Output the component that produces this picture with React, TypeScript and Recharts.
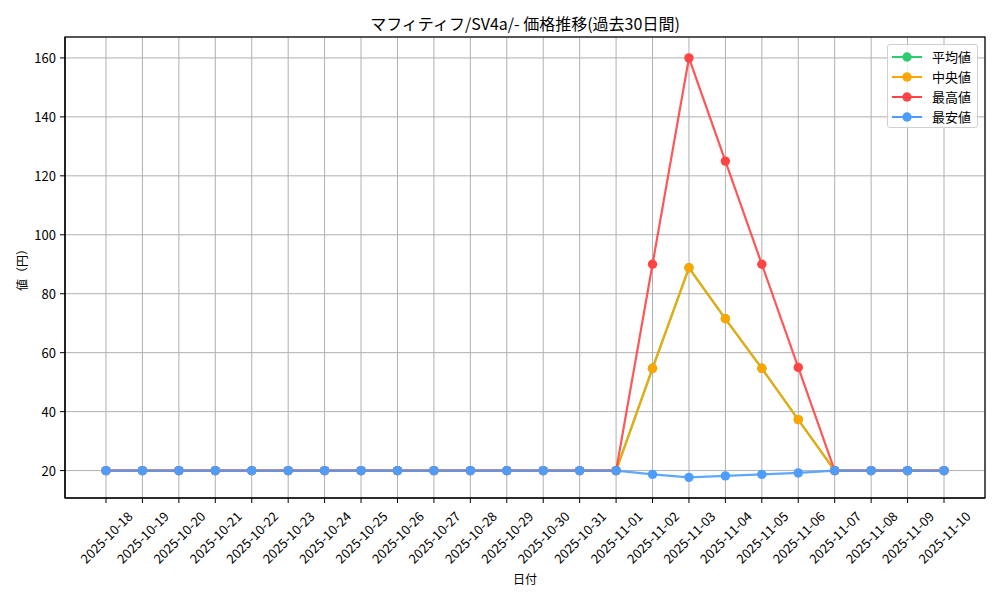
import React from "react";
import { LineChart, Line, XAxis, YAxis, CartesianGrid } from "recharts";

const dates = [
  "2025-10-18", "2025-10-19", "2025-10-20", "2025-10-21", "2025-10-22", "2025-10-23",
  "2025-10-24", "2025-10-25", "2025-10-26", "2025-10-27", "2025-10-28", "2025-10-29",
  "2025-10-30", "2025-10-31", "2025-11-01", "2025-11-02", "2025-11-03", "2025-11-04",
  "2025-11-05", "2025-11-06", "2025-11-07", "2025-11-08", "2025-11-09", "2025-11-10",
];
const avgValues = [20, 20, 20, 20, 20, 20, 20, 20, 20, 20, 20, 20, 20, 20, 20, 54.7, 88.8, 71.5, 54.7, 37.3, 20, 20, 20, 20];
const medianValues = [20, 20, 20, 20, 20, 20, 20, 20, 20, 20, 20, 20, 20, 20, 20, 54.7, 88.8, 71.5, 54.7, 37.3, 20, 20, 20, 20];
const maxValues = [20, 20, 20, 20, 20, 20, 20, 20, 20, 20, 20, 20, 20, 20, 20, 90, 160, 125, 90, 55, 20, 20, 20, 20];
const minValues = [20, 20, 20, 20, 20, 20, 20, 20, 20, 20, 20, 20, 20, 20, 20, 18.7, 17.7, 18.2, 18.7, 19.2, 20, 20, 20, 20];
const yTicks = [20, 40, 60, 80, 100, 120, 140, 160];

const seriesInfo = [
  { key: "avg", name: "平均値", color: "#2ecc71" },
  { key: "median", name: "中央値", color: "#ffa500" },
  { key: "max", name: "最高値", color: "#ff4444" },
  { key: "min", name: "最安値", color: "#4d9dff" },
];

const data = dates.map((d, i) => ({
  date: d,
  avg: avgValues[i],
  median: medianValues[i],
  max: maxValues[i],
  min: minValues[i],
}));

const FONT = "'Noto Sans CJK JP', 'DejaVu Sans', sans-serif";

const XTick = (props: any) => {
  const { x, y, payload } = props;
  return (
    <g transform={`translate(${x},${y + 32})`}>
      <text
        transform="rotate(-45)"
        textAnchor="middle"
        dominantBaseline="central"
        fontSize={13}
        fontFamily={FONT}
        fill="#000"
      >
        {payload.value}
      </text>
    </g>
  );
};

const YTick = (props: any) => {
  const { x, y, payload } = props;
  return (
    <text x={x - 2} y={y} textAnchor="end" dominantBaseline="central" fontSize={13} fontFamily={FONT} fill="#000">
      {payload.value}
    </text>
  );
};

const LegendBox = () => (
  <div
    style={{
      position: "absolute",
      left: 887,
      top: 44,
      border: "1px solid #d0d0d0",
      borderRadius: 3,
      background: "rgba(255,255,255,0.8)",
      width: 91,
      height: 84,
      boxSizing: "border-box",
      padding: "2px 0 0 3px",
      fontFamily: FONT,
      fontSize: 13,
      lineHeight: "20px",
    }}
  >
    {seriesInfo.map((s) => (
      <div key={s.key} style={{ display: "flex", alignItems: "center", height: 20 }}>
        <svg width={34} height={12}>
          <line x1={1} y1={6} x2={31} y2={6} stroke={s.color} strokeWidth={2} />
          <circle cx={16} cy={6} r={4.7} fill={s.color} />
        </svg>
        <span style={{ marginLeft: 7, color: "#000" }}>{s.name}</span>
      </div>
    ))}
  </div>
);

export default function App() {
  return (
    <div style={{ position: "absolute", left: 0, top: 0, width: 1000, height: 600, background: "#fff" }}>
      <LineChart
        width={1000}
        height={600}
        data={data}
        margin={{ top: 37, right: 15, bottom: 0, left: 0 }}
        style={{ position: "absolute", left: 0, top: 0 }}
      >
        <CartesianGrid stroke="#b0b0b0" strokeWidth={1} />
        <XAxis
          dataKey="date"
          height={102}
          padding={{ left: 41, right: 41 }}
          interval={0}
          tick={<XTick />}
          tickSize={5}
          tickLine={{ stroke: "#000" }}
          axisLine={{ stroke: "#000", strokeWidth: 1.2 }}
        />
        <YAxis
          width={65}
          domain={[10.7, 167.1]}
          ticks={yTicks}
          allowDataOverflow
          tick={<YTick />}
          tickSize={5}
          tickLine={{ stroke: "#000" }}
          axisLine={{ stroke: "#000", strokeWidth: 1.2 }}
        />
        {seriesInfo.map((s) => (
          <Line
            key={s.key}
            dataKey={s.key}
            name={s.name}
            type="linear"
            stroke={s.color}
            strokeWidth={2.2}
            strokeOpacity={0.9}
            dot={{ r: 4.7, fill: s.color, stroke: s.color, strokeWidth: 0 }}
            activeDot={false}
            isAnimationActive={false}
          />
        ))}
      </LineChart>
      <svg width={1000} height={600} style={{ position: "absolute", left: 0, top: 0, pointerEvents: "none" }}>
        <rect x={65} y={37} width={920} height={461} fill="none" stroke="#000" strokeWidth={1.2} />
        <text x={525} y={23} textAnchor="middle" dominantBaseline="central" fontSize={16} fontFamily={FONT} fill="#000">
          マフィティフ/SV4a/- 価格推移(過去30日間)
        </text>
        <text x={525} y={578} textAnchor="middle" dominantBaseline="central" fontSize={12} fontFamily={FONT} fill="#000">
          日付
        </text>
        <text
          x={21}
          y={267}
          textAnchor="middle"
          dominantBaseline="central"
          fontSize={12}
          fontFamily={FONT}
          fill="#000"
          transform="rotate(-90 21 267)"
        >
          値（円）
        </text>
      </svg>
      <LegendBox />
    </div>
  );
}
